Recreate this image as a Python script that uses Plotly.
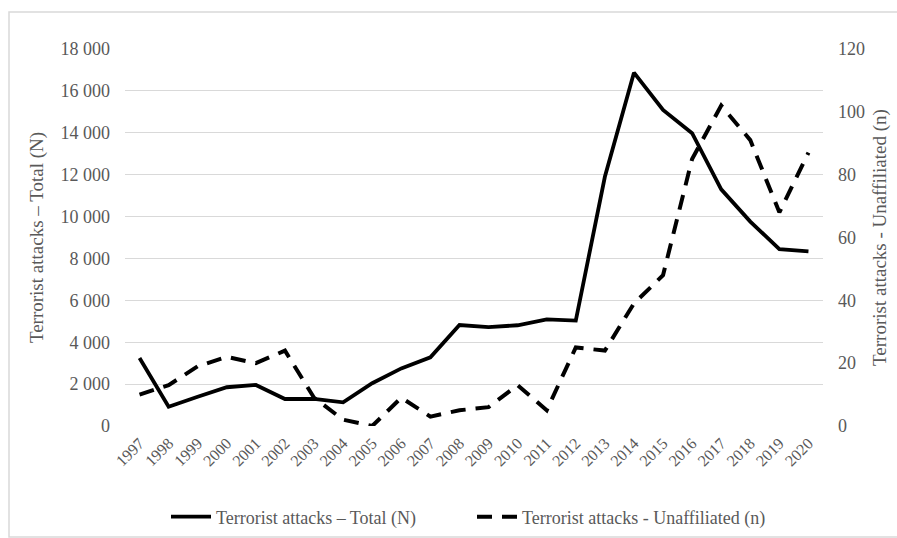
import plotly.graph_objects as go

# Annual counts
years = [str(y) for y in range(1997, 2021)]
total_attacks = [3250, 920, 1400, 1850, 1960, 1290, 1290, 1130, 2040, 2750, 3280, 4820,
                 4720, 4810, 5095, 5030, 11900, 16870, 15090, 13980, 11300, 9760, 8440, 8340]
unaffiliated_attacks = [10, 13, 19, 22, 20, 24, 9, 2, 0, 9, 3, 5,
                        6, 13, 5, 25, 24, 39, 48, 85, 102, 91, 68, 87]

left_tickvals = [0, 2000, 4000, 6000, 8000, 10000, 12000, 14000, 16000, 18000]
left_ticktext = ["0", "2 000", "4 000", "6 000", "8 000", "10 000", "12 000",
                 "14 000", "16 000", "18 000"]
right_tickvals = [0, 20, 40, 60, 80, 100, 120]
right_ticktext = ["0", "20", "40", "60", "80", "100", "120"]

FONT = "'Liberation Serif', 'Times New Roman', 'DejaVu Serif', serif"
GREY = "#595959"
GRID = "#d9d9d9"

fig = go.Figure()
fig.add_trace(go.Scatter(
    x=years, y=total_attacks, mode="lines",
    name="Terrorist attacks – Total (N)",
    line=dict(color="black", width=3.8),
    yaxis="y",
))
fig.add_trace(go.Scatter(
    x=years, y=unaffiliated_attacks, mode="lines",
    name="Terrorist attacks - Unaffiliated (n)",
    line=dict(color="black", width=4, dash="15px,10px"),
    yaxis="y2",
))

W, H = 897, 538
L, R, T, B = 125, 74, 49, 112
pw, ph = W - L - R, H - T - B

def px_x(x):
    return (x - L) / pw

def px_y(y):
    return (H - B - y) / ph

fig.update_layout(
    width=W, height=H,
    margin=dict(l=L, r=R, t=T, b=B, autoexpand=False),
    paper_bgcolor="white", plot_bgcolor="white",
    font=dict(family=FONT, color=GREY, size=18),
    showlegend=True,
    legend=dict(
        orientation="h", x=px_x(472), xanchor="center",
        y=px_y(517), yanchor="middle",
        font=dict(family=FONT, size=18, color=GREY),
        itemwidth=40, entrywidth=251, entrywidthmode="pixels",
        traceorder="normal",
    ),
    xaxis=dict(
        type="category", range=[-0.5, len(years) - 0.5],
        showgrid=False, showline=False, zeroline=False,
        tickangle=-45, tickfont=dict(family=FONT, size=16, color=GREY),
        ticks="", automargin=False, ticklabelstandoff=4,
    ),
    yaxis=dict(
        range=[0, 18000], tickvals=left_tickvals, ticktext=left_ticktext,
        showgrid=True, gridcolor=GRID, gridwidth=1.3,
        zeroline=False, showline=False, ticks="",
        tickfont=dict(family=FONT, size=18, color=GREY),
        ticklabelstandoff=14, automargin=False,
        title=dict(text="Terrorist attacks – Total (N)",
                   font=dict(family=FONT, size=19, color=GREY), standoff=11),
    ),
    yaxis2=dict(
        range=[0, 120], tickvals=right_tickvals, ticktext=right_ticktext,
        overlaying="y", side="right",
        showgrid=False, zeroline=False, showline=False, ticks="",
        tickfont=dict(family=FONT, size=18, color=GREY),
        ticklabelstandoff=14, automargin=False,
        title=dict(text="Terrorist attacks - Unaffiliated (n)",
                   font=dict(family=FONT, size=19, color=GREY), standoff=8),
    ),
    shapes=[dict(
        type="rect", xref="paper", yref="paper",
        x0=px_x(9), x1=px_x(905), y0=px_y(537), y1=px_y(12),
        line=dict(color=GRID, width=1.5), fillcolor="rgba(0,0,0,0)", layer="below",
    )],
)

fig.write_html("out.html")
